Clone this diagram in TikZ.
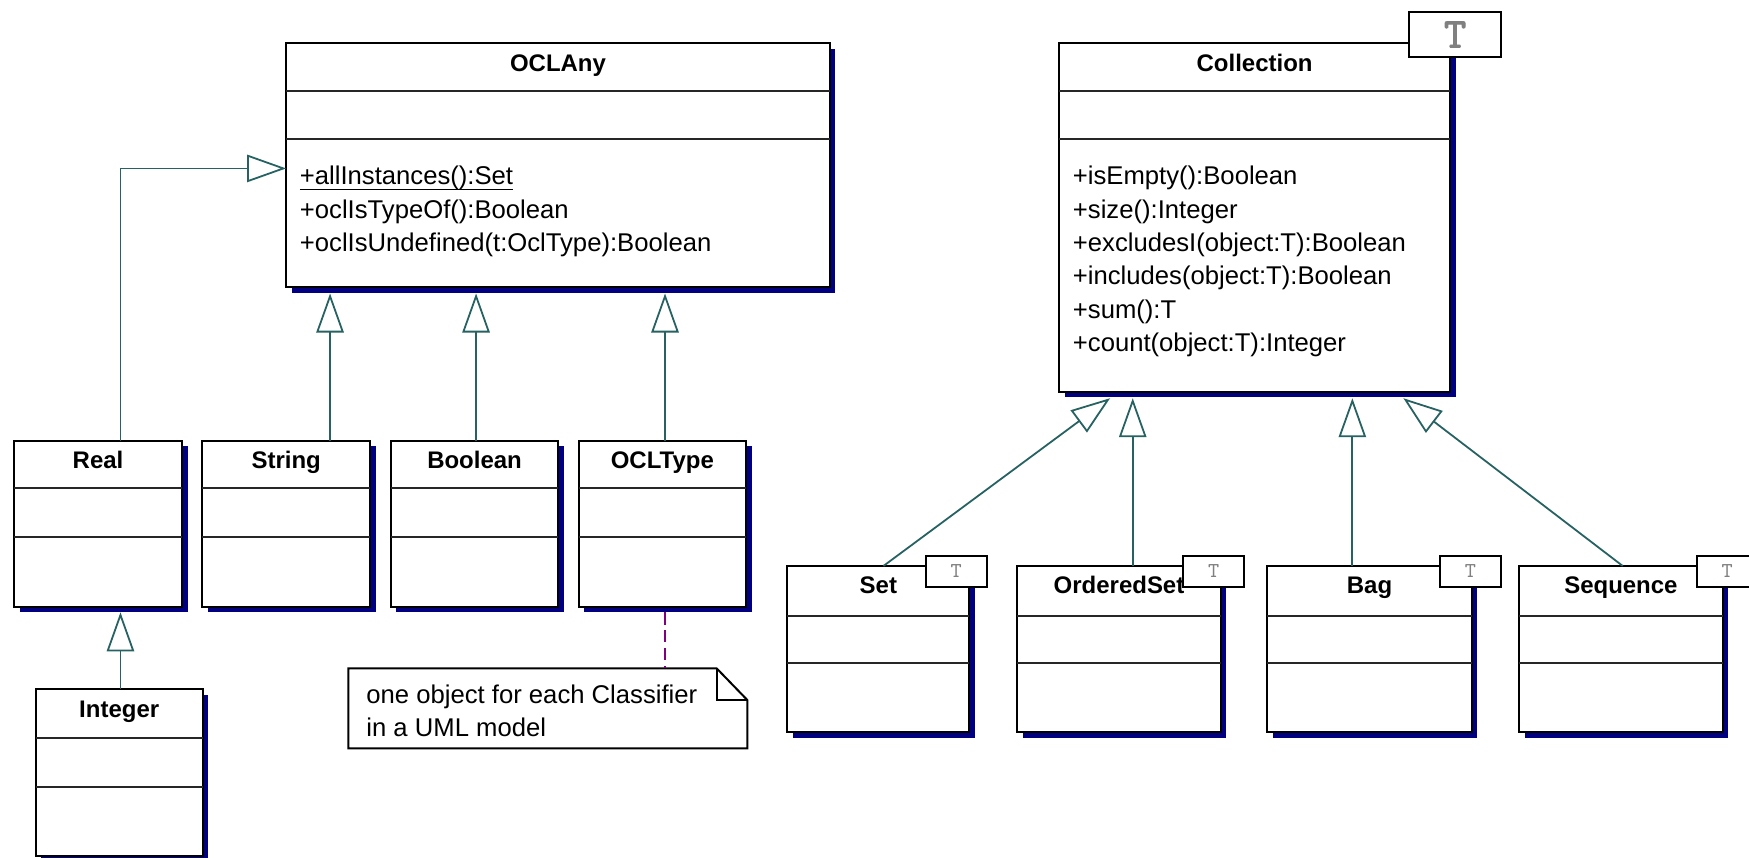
\documentclass[tikz,border=0pt]{standalone}
\usepackage{fontspec}
\setmainfont{Liberation Sans}
\newfontfamily\tfont{lmmono10-regular.otf}
\newfontfamily\tfontb[FakeBold=2]{lmmono10-regular.otf}
\usetikzlibrary{arrows.meta,fit,calc}
\definecolor{shadowc}{RGB}{0,0,128}
\definecolor{linkc}{RGB}{38,98,98}
\definecolor{notec}{RGB}{128,0,128}
\definecolor{tgray}{RGB}{128,128,128}
\newcommand\ulin[1]{\setbox0\hbox{#1}\rlap{\rule[-2.5pt]{\wd0}{0.6pt}}\box0}
\tikzset{
 boxst/.style={draw=black, fill=white, line width=0.9pt, inner sep=0pt, outer sep=0pt},
 sepst/.style={draw=black!85, line width=0.9pt},
 titlest/.style={font=\bfseries\fontsize{10.75}{12}\selectfont, anchor=base, inner sep=0pt},
 opst/.style={font=\fontsize{11.5}{13}\selectfont, anchor=base west, inner sep=0pt},
 gen/.style={draw=linkc, line width=0.8pt, -{Triangle[length=17.5pt,width=12.25pt,fill=white]}},
 notelink/.style={draw=notec, line width=0.8pt, dash pattern=on 5.5pt off 2.5pt},
 tboxst/.style={draw=black, fill=white, line width=0.9pt, inner sep=0pt, outer sep=0pt},
 bigT/.style={font=\tfontb\fontsize{19}{20}\selectfont, text=tgray, inner sep=0pt},
 smallT/.style={font=\tfont\fontsize{9.5}{10}\selectfont, text=tgray, inner sep=0pt},
}
% name, x1, y1, x2, y2, l1, l2, title
\newcommand\umlbox[8]{%
  \fill[shadowc] (#2+5,#3+5) rectangle (#4+5,#5+5);
  \node[boxst, fit={(#2,#3) (#4,#5)}] (#1) {};
  \draw[sepst] (#2,#6) -- (#4,#6) (#2,#7) -- (#4,#7);
  \node[titlest] (#1t) at ({(#2+#4)/2},#3+25) {#8};
}
\newcommand\tmark[6]{% name, x1,y1,x2,y2, style
  \node[tboxst, fit={(#2,#3) (#4,#5)}] (#1) {};
  \node[#6] (#1l) at (#1.center) {T};
}
\begin{document}
\begin{tikzpicture}[x=0.5pt,y=-0.5pt]
\fill[white] (0,0) rectangle (1568,769);
\useasboundingbox (0,0) rectangle (1568,769);

% ---- left hierarchy ----
\umlbox{oclany}{256.5}{39}{744}{257.6}{82}{125}{OCLAny}
\node[opst] (oa1) at (268.5,165.5) {\ulin{+allInstances():Set}};
\node[opst] (oa2) at (268.5,195.5) {+oclIsTypeOf():Boolean};
\node[opst] (oa3) at (268.5,225.5) {+oclIsUndefined(t:OclType):Boolean};

\umlbox{real}{12.6}{395.1}{163.2}{543.9}{437.8}{481.7}{Real}
\umlbox{string}{181.5}{395.1}{331.7}{543.9}{437.8}{481.7}{String}
\umlbox{boolean}{350.3}{395.1}{500.6}{543.9}{437.8}{481.7}{Boolean}
\umlbox{ocltype}{518.8}{395.1}{668.8}{543.9}{437.8}{481.7}{OCLType}
\umlbox{integer}{32}{618}{181.7}{767.5}{662}{705.9}{Integer}

\coordinate (tipR) at ($(real.south west)+(95.4,5)$);
\coordinate (tipA) at ($(oclany.north west)+(0,112)$);
\coordinate (tipS) at ($(oclany.south west)+(39.4,5.5)$);
\coordinate (tipB) at ($(oclany.south west)+(170.3,5.5)$);
\coordinate (tipT) at ($(oclany.south west)+(339.7,5.5)$);
\draw[gen] (integer.north -| tipR) -- (tipR);
\draw[gen] (real.north -| tipR) |- (tipA);
\draw[gen] (string.north -| tipS) -- (tipS);
\draw[gen] (boolean.north -| tipB) -- (tipB);
\draw[gen] (ocltype.north -| tipT) -- (tipT);

% note
\node[inner sep=0pt, outer sep=0pt, fit={(312.3,599.2) (670,670.9)}] (note) {};
\fill[shadowc, shift={(5,5)}] (note.north west) -- ($(note.north east)+(-27.5,0)$) -- ($(note.north east)+(0,28.4)$) -- (note.south east) -- (note.south west) -- cycle;
\draw[boxst] (note.north west) -- ($(note.north east)+(-27.5,0)$) -- ($(note.north east)+(0,28.4)$) -- (note.south east) -- (note.south west) -- cycle;
\draw[boxst, fill=none] ($(note.north east)+(-27.5,0)$) |- ($(note.north east)+(0,28.4)$);
\node[opst] (n1) at (328.1,630.6) {one object for each Classifier};
\node[opst] (n2) at (328.1,659.9) {in a UML model};
\coordinate (dA) at ($(ocltype.south west)+(77.4,5)$);
\draw[notelink] (dA) -- (dA |- note.north);

% ---- right hierarchy ----
\umlbox{coll}{949.5}{39}{1300}{351}{82}{125}{Collection}
\node[opst] (c1) at (961.5,165.5) {+isEmpty():Boolean};
\node[opst] (c2) at (961.5,195.5) {+size():Integer};
\node[opst] (c3) at (961.5,225.5) {+excludesI(object:T):Boolean};
\node[opst] (c4) at (961.5,255.5) {+includes(object:T):Boolean};
\node[opst] (c5) at (961.5,285.5) {+sum():T};
\node[opst] (c6) at (961.5,315.5) {+count(object:T):Integer};
\tmark{collT}{1263.5}{10.5}{1345.5}{51.5}{bigT}

\umlbox{set}{705.9}{507.4}{869}{656.5}{552}{594.5}{Set}
\umlbox{oset}{912}{507.4}{1094.4}{656.5}{552}{594.5}{OrderedSet}
\umlbox{bag}{1136.2}{507.4}{1319.4}{656.5}{552}{594.5}{Bag}
\umlbox{seq}{1361.8}{507.4}{1544.5}{656.5}{552}{594.5}{Sequence}
\tmark{setT}{829.9}{498.5}{884.6}{526}{smallT}
\tmark{osetT}{1060.9}{498.5}{1115.3}{526}{smallT}
\tmark{bagT}{1291}{498.5}{1345.4}{526}{smallT}
\tmark{seqT}{1521.2}{498.5}{1575.6}{526}{smallT}

\coordinate (tipSet) at ($(coll.south west)+(45.7,6)$);
\coordinate (tipO) at ($(coll.south west)+(66,6)$);
\coordinate (tipBag) at ($(coll.south west)+(262.9,6)$);
\coordinate (tipSeq) at ($(coll.south west)+(308.6,6)$);
\draw[gen] ($(set.north west)+(86.1,0)$) -- (tipSet);
\draw[gen] (oset.north -| tipO) -- (tipO);
\draw[gen] (bag.north -| tipBag) -- (tipBag);
\draw[gen] ($(seq.north west)+(93,0)$) -- (tipSeq);
\end{tikzpicture}
\end{document}
